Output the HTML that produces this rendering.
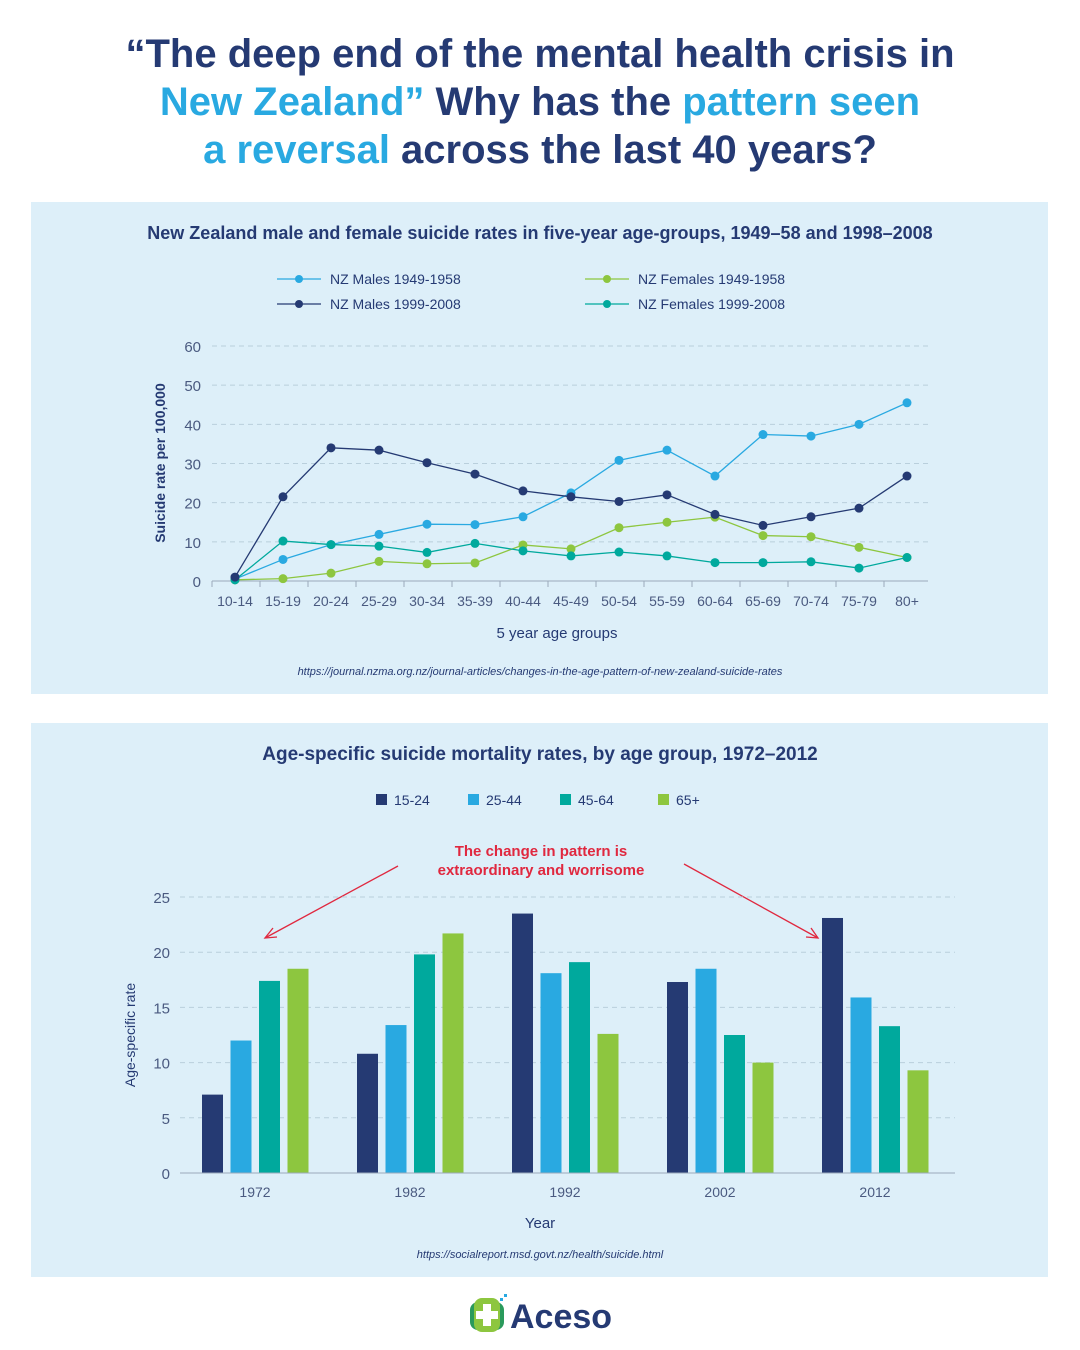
<!DOCTYPE html>
<html><head><meta charset="utf-8"><style>
body{margin:0;width:1080px;height:1350px;background:#fff;font-family:"Liberation Sans",sans-serif;position:relative;overflow:hidden}
.title{position:absolute;top:30px;left:0;width:1080px;text-align:center;font-weight:bold;font-size:40px;line-height:48px;color:#253a73}
.hl{color:#29a9e1}
.panel{position:absolute;left:31px;width:1017px;background:#ddeff9}
svg text{font-family:"Liberation Sans",sans-serif}
</style></head><body>
<div class="title">“The deep end of the mental health crisis in<br><span class="hl">New Zealand”</span> Why has the <span class="hl">pattern seen</span><br><span class="hl">a reversal</span> across the last 40 years?</div>
<div class="panel" style="top:202px;height:492px"></div>
<div class="panel" style="top:723px;height:554px"></div>
<svg id="s" width="1080" height="1350" style="position:absolute;left:0;top:0">
<text x="540" y="239" text-anchor="middle" font-size="18" font-weight="bold" fill="#253a73">New Zealand male and female suicide rates in five-year age-groups, 1949–58 and 1998–2008</text>
<text x="165" y="463" transform="rotate(-90 165 463)" font-size="14" font-weight="bold" fill="#253a73" text-anchor="middle">Suicide rate per 100,000</text>
<text x="557" y="638" text-anchor="middle" font-size="15" fill="#253a73">5 year age groups</text>
<text x="540" y="675" text-anchor="middle" font-size="11" font-style="italic" fill="#253a73">https://journal.nzma.org.nz/journal-articles/changes-in-the-age-pattern-of-new-zealand-suicide-rates</text>
<text x="540" y="760" text-anchor="middle" font-size="19" font-weight="bold" fill="#253a73">Age-specific suicide mortality rates, by age group, 1972–2012</text>
<text x="135" y="1035" transform="rotate(-90 135 1035)" text-anchor="middle" font-size="14" fill="#253a73">Age-specific rate</text>
<text x="540" y="1228" text-anchor="middle" font-size="15" fill="#253a73">Year</text>
<text x="540" y="1258" text-anchor="middle" font-size="11" font-style="italic" fill="#253a73">https://socialreport.msd.govt.nz/health/suicide.html</text>
<text x="541" y="856" text-anchor="middle" font-size="15" font-weight="bold" fill="#e0283f">The change in pattern is</text>
<text x="541" y="875" text-anchor="middle" font-size="15" font-weight="bold" fill="#e0283f">extraordinary and worrisome</text>
<g stroke="#e0283f" stroke-width="1.3" fill="none">
<line x1="398" y1="866" x2="265" y2="938"/><path d="M273 928 L265 938 L277 937"/>
<line x1="684" y1="864" x2="818" y2="938"/><path d="M806 937 L818 938 L811 928"/>
</g>
<g transform="translate(470,1296)">
<rect x="0" y="6" width="34" height="28" rx="8" fill="#2a9a5c"/><rect x="4" y="2" width="26" height="34" rx="8" fill="#8dc63f"/>
<rect x="13" y="8" width="8" height="22" fill="#fff"/><rect x="6" y="15" width="22" height="8" fill="#fff"/>
<rect x="30" y="2" width="3" height="3" fill="#29a9e1"/><rect x="34" y="-2" width="3" height="3" fill="#29a9e1"/>
<text x="40" y="32" font-size="34" font-weight="bold" fill="#253a73">Aceso</text>
</g>
</svg>
<script>
const ageGroups=["10-14","15-19","20-24","25-29","30-34","35-39","40-44","45-49","50-54","55-59","60-64","65-69","70-74","75-79","80+"];
const males1949=[0.5,5.5,9.3,11.9,14.5,14.4,16.4,22.5,30.8,33.4,26.8,37.4,37,40,45.5];
const males1999=[1,21.5,34,33.4,30.2,27.3,23,21.5,20.3,22,17,14.2,16.4,18.6,26.8];
const females1949=[0.3,0.6,2,5,4.4,4.6,9.2,8.2,13.6,15,16.3,11.6,11.3,8.6,6];
const females1999=[0.3,10.2,9.3,8.9,7.3,9.6,7.7,6.4,7.4,6.4,4.7,4.7,4.9,3.3,6];
const lineTicks=[0,10,20,30,40,50,60];
const years=["1972","1982","1992","2002","2012"];
const bar1524=[7.1,10.8,23.5,17.3,23.1];
const bar2544=[12,13.4,18.1,18.5,15.9];
const bar4564=[17.4,19.8,19.1,12.5,13.3];
const bar65=[18.5,21.7,12.6,10,9.3];
const barTicks=[0,5,10,15,20,25];
const NS="http://www.w3.org/2000/svg",s=document.getElementById('s');
function el(t,a,txt){const e=document.createElementNS(NS,t);for(const k in a)e.setAttribute(k,a[k]);if(txt!==undefined)e.textContent=txt;s.appendChild(e);return e;}
const C={navy:"#253a73",blue:"#29a9e1",teal:"#00a99d",green:"#8dc63f"};
const lx=i=>235+i*48, ly=v=>581-v*(235/60);
lineTicks.forEach(t=>{
 if(t>0){const g=el('line',{x1:212,x2:928,y1:ly(t),y2:ly(t),stroke:"#b9cfdc","stroke-dasharray":"5,4"});
 
 }
 const l=el('text',{x:201,y:ly(t)+6,"text-anchor":"end","font-size":15,fill:"#4a5a80"},t);
 
 
});
const ax=el('line',{x1:212,x2:928,y1:581,y2:581,stroke:"#9aaabb"});


ageGroups.forEach((g,i)=>{
 const tk=el('line',{x1:lx(i)-24+1,x2:lx(i)-24+1,y1:581,y2:587,stroke:"#9aaabb"});
 
 
 const t=el('text',{x:lx(i),y:606,"text-anchor":"middle","font-size":14,fill:"#4a5a80"},g);
 
 
});
[[males1949,C.blue,"nz-males-1949"],[females1949,C.green,"nz-females-1949"],[females1999,C.teal,"nz-females-1999"],[males1999,C.navy,"nz-males-1999"]].forEach(([d,c,n])=>{
 const p=el('polyline',{points:d.map((v,i)=>lx(i)+","+ly(v)).join(" "),fill:"none",stroke:c,"stroke-width":1.3});
 
 
 d.forEach((v,i)=>{const m=el('circle',{cx:lx(i),cy:ly(v),r:4.5,fill:c});
 
 });
});
[["NZ Males 1949-1958",C.blue,277,279],["NZ Males 1999-2008",C.navy,277,304],["NZ Females 1949-1958",C.green,585,279],["NZ Females 1999-2008",C.teal,585,304]].forEach(([t,c,x,y])=>{
 const l=el('line',{x1:x,x2:x+44,y1:y,y2:y,stroke:c,"stroke-width":1.3});
 
 
 const m=el('circle',{cx:x+22,cy:y,r:4,fill:c});
 
 
 const tx=el('text',{x:x+53,y:y+5,"font-size":14,fill:"#253a73"},t);
 
 
});
const by=v=>1173-v*(276/25), gx=i=>255+i*155;
barTicks.forEach(t=>{
 if(t>0){const g=el('line',{x1:180,x2:955,y1:by(t),y2:by(t),stroke:"#b9cfdc","stroke-dasharray":"5,4"});
 
 }
 const l=el('text',{x:170,y:by(t)+6,"text-anchor":"end","font-size":15,fill:"#4a5a80"},t);
 
 
});
[[bar1524,C.navy,"bar-15-24"],[bar2544,C.blue,"bar-25-44"],[bar4564,C.teal,"bar-45-64"],[bar65,C.green,"bar-65-plus"]].forEach(([d,c,n],k)=>{
 d.forEach((v,i)=>{const r=el('rect',{x:gx(i)-53+k*28.5,y:by(v),width:21,height:1173-by(v),fill:c});
 
 });
});
const bax=el('line',{x1:180,x2:955,y1:1173,y2:1173,stroke:"#9aaabb"});


years.forEach((y,i)=>{
 const t=el('text',{x:gx(i),y:1197,"text-anchor":"middle","font-size":14,fill:"#4a5a80"},y);
 
 
});
[["15-24",C.navy,376],["25-44",C.blue,468],["45-64",C.teal,560],["65+",C.green,658]].forEach(([t,c,x])=>{
 const r=el('rect',{x:x,y:794,width:11,height:11,fill:c});
 
 
 const tx=el('text',{x:x+18,y:805,"font-size":14,fill:"#253a73"},t);
 
 
});
</script>
</body></html>
